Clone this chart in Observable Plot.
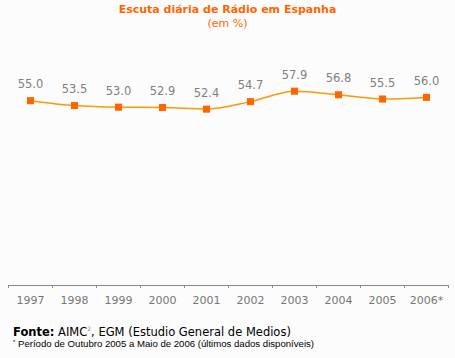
<!DOCTYPE html>
<html>
<head>
<meta charset="utf-8">
<script src="https://cdn.jsdelivr.net/npm/d3@7"></script>
<script src="https://cdn.jsdelivr.net/npm/@observablehq/plot@0.6"></script>
<style>
  html, body { margin: 0; padding: 0; background: #fcfcfc; }
  #wrap { position: relative; width: 455px; height: 358px; background: #fcfcfc; overflow: hidden; font-family: "DejaVu Sans", Verdana, sans-serif; }
  #title { position: absolute; left: 0; width: 455px; top: 3px; text-align: center; color: #ff6600; font-weight: bold; font-size: 11px; line-height: 14px; }
  #subtitle { position: absolute; left: 0; width: 455px; top: 17px; text-align: center; color: #ff6600; font-size: 11px; line-height: 14px; }
  #chart { position: absolute; left: 0; top: 32px; }
  #fonte { position: absolute; left: 13px; top: 322px; font-size: 11.5px; color: #000; line-height: 14px; white-space: nowrap; }
  #fonte sup { font-size: 6px; color: #888; vertical-align: 5px; }
  #nota { position: absolute; left: 13px; top: 337px; font-family: "Liberation Sans", Arial, sans-serif; font-size: 9.6px; color: #000; line-height: 11px; white-space: nowrap; }
</style>
</head>
<body>
<div id="wrap">
  <div id="title">Escuta diária de Rádio em Espanha</div>
  <div id="subtitle">(em %)</div>
  <div id="chart"></div>
  <div id="fonte"><b>Fonte:</b> AIMC<sup>2</sup>, EGM (Estudio General de Medios)</div>
  <div id="nota"><sup style="font-size:6px;vertical-align:3px">*</sup> Período de Outubro 2005 a Maio de 2006 (últimos dados disponíveis)</div>
</div>
<script>
const years = [1997, 1998, 1999, 2000, 2001, 2002, 2003, 2004, 2005, 2006];
const yearLabels = ["1997", "1998", "1999", "2000", "2001", "2002", "2003", "2004", "2005", "2006*"];
const values = [55.0, 53.5, 53.0, 52.9, 52.4, 54.7, 57.9, 56.8, 55.5, 56.0];

const data = years.map((y, i) => ({ year: y, label: yearLabels[i], value: values[i] }));
const bounds = [years[0] - 0.5, ...years.map(y => y + 0.5)];

const chart = Plot.plot({
  width: 455,
  height: 280,
  style: { background: "transparent", fontFamily: "DejaVu Sans, Verdana, sans-serif" },
  x: { domain: [years[0] - 0.5, years[years.length - 1] + 0.5], range: [8, 448], axis: null },
  y: { domain: [0, 60], range: [248, 248 - 60 * 3.27], axis: null },
  marks: [
    Plot.ruleY([0], { x1: bounds[0], x2: bounds[bounds.length - 1], dy: 5, stroke: "#888", strokeWidth: 1 }),
    Plot.ruleX(bounds, { y1: 0, y2: 0, dy: 5, insetBottom: -3, stroke: "#888", strokeWidth: 1 }),
    Plot.text(data, { x: "year", y: 0, text: "label", dy: 20, fill: "#777", fontSize: 11 }),
    Plot.line(data, { x: "year", y: "value", stroke: "#ff9900", strokeWidth: 1.5, curve: "monotone-x" }),
    Plot.dot(data, { x: "year", y: "value", symbol: "square", r: 4, fill: "#ff6600", stroke: "none" }),
    Plot.text(data, { x: "year", y: "value", text: d => d.value.toFixed(1), dy: -16, fill: "#808080", fontSize: 11.5 })
  ]
});
document.getElementById("chart").appendChild(chart);
</script>
</body>
</html>
